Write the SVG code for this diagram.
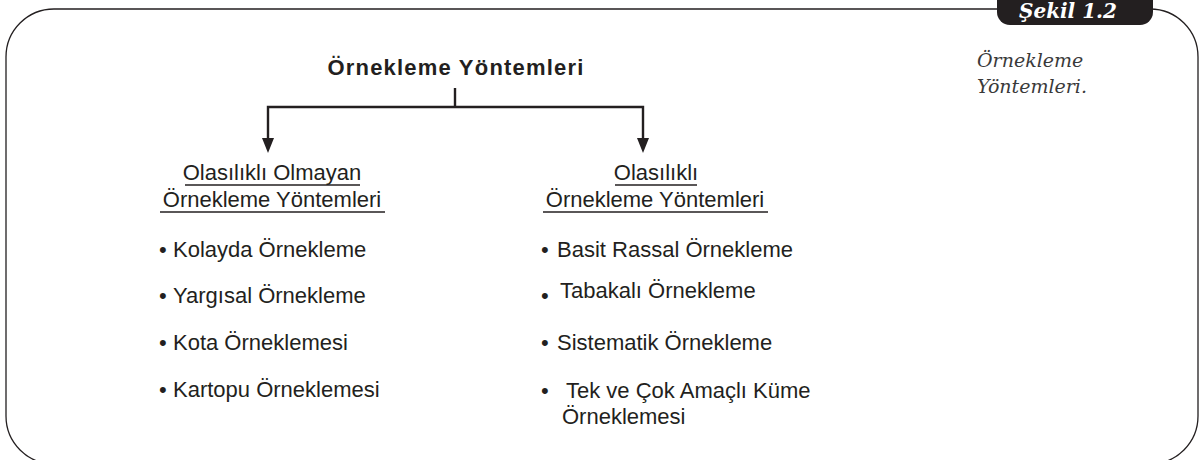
<svg xmlns="http://www.w3.org/2000/svg" width="1202" height="460" viewBox="0 0 1202 460">
  <defs>
    <style>
      .body { font-family: "Liberation Sans", Arial, sans-serif; font-size: 22px; fill: #231f20; }
      .title { font-family: "Liberation Sans", Arial, sans-serif; font-size: 22px; font-weight: bold; fill: #231f20; letter-spacing: 1.2px; }
      .cap { font-family: "DejaVu Serif", "Liberation Serif", serif; font-style: italic; font-size: 19px; fill: #3a3a3a; }
      .fig { font-family: "DejaVu Serif", "Liberation Serif", serif; font-style: italic; font-weight: bold; font-size: 20px; fill: #ffffff; }
      .frame { fill: none; stroke: #231f20; stroke-width: 1.3; }
      .conn { fill: none; stroke: #231f20; stroke-width: 2.4; }
      .head { fill: #231f20; }
      .ul { stroke: #231f20; stroke-width: 1.6; }
    </style>
  </defs>

  <rect width="1202" height="460" fill="#ffffff"/>

  <!-- frame -->
  <g id="frame">
    <rect class="frame" x="6" y="9" width="1192" height="455" rx="48" ry="48"/>
    <rect x="997" y="-14" width="156" height="39" rx="13" ry="13" fill="#231f20"/>
    <text class="fig" x="1068" y="18" text-anchor="middle">Şekil 1.2</text>
  </g>

  <!-- caption -->
  <g id="caption">
    <text class="cap" x="977" y="67">Örnekleme</text>
    <text class="cap" x="977" y="93">Yöntemleri.</text>
  </g>

  <!-- connectors -->
  <g id="connectors">
    <line class="conn" x1="455" y1="88" x2="455" y2="107"/>
    <polyline class="conn" points="268,140 268,107 643,107 643,140"/>
    <path class="head" d="M262,138 L274,138 L268,153 Z"/>
    <path class="head" d="M637,138 L649,138 L643,153 Z"/>
  </g>

  <!-- root node -->
  <g id="node-root">
    <text class="title" x="456" y="75" text-anchor="middle">Örnekleme Yöntemleri</text>
  </g>

  <!-- left node -->
  <g id="node-nonprob">
    <text class="body" x="272" y="180" text-anchor="middle">Olasılıklı Olmayan</text>
    <line class="ul" x1="185" y1="185" x2="360" y2="185"/>
    <text class="body" x="272" y="207" text-anchor="middle">Örnekleme Yöntemleri</text>
    <line class="ul" x1="160" y1="212" x2="385" y2="212"/>
    <text class="body" y="257"><tspan x="159">•</tspan><tspan x="173">Kolayda Örnekleme</tspan></text>
    <text class="body" y="303"><tspan x="159">•</tspan><tspan x="173">Yargısal Örnekleme</tspan></text>
    <text class="body" y="350"><tspan x="159">•</tspan><tspan x="173">Kota Örneklemesi</tspan></text>
    <text class="body" y="397"><tspan x="159">•</tspan><tspan x="173">Kartopu Örneklemesi</tspan></text>
  </g>

  <!-- right node -->
  <g id="node-prob">
    <text class="body" x="656" y="180" text-anchor="middle">Olasılıklı</text>
    <line class="ul" x1="615" y1="185" x2="697" y2="185"/>
    <text class="body" x="655" y="207" text-anchor="middle">Örnekleme Yöntemleri</text>
    <line class="ul" x1="543" y1="212" x2="768" y2="212"/>
    <text class="body" y="257"><tspan x="541">•</tspan><tspan x="557">Basit Rassal Örnekleme</tspan></text>
    <text class="body" y="298"><tspan x="541" dy="5">•</tspan><tspan x="560" dy="-5">Tabakalı Örnekleme</tspan></text>
    <text class="body" y="350"><tspan x="541">•</tspan><tspan x="557">Sistematik Örnekleme</tspan></text>
    <text class="body" y="398"><tspan x="541">•</tspan><tspan x="566">Tek ve Çok Amaçlı Küme</tspan></text>
    <text class="body" x="562" y="424">Örneklemesi</text>
  </g>
</svg>
